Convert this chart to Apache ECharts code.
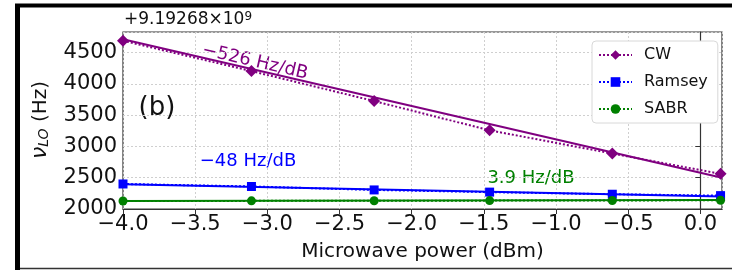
<!DOCTYPE html>
<html>
<head>
<meta charset="utf-8">
<script src="https://cdn.jsdelivr.net/npm/echarts@6/dist/echarts.min.js"></script>
<style>
  html, body { margin: 0; padding: 0; background: #fff; }
  #chart { width: 732px; height: 270px; }
</style>
</head>
<body>
<div id="chart"></div>
<script>
// microwave power (dBm) for every measurement
const power = [-4.0, -3.11, -2.26, -1.46, -0.61, 0.14];
// LO frequency offset from 9.19268e9 Hz
const cwVals = [4690, 4205, 3726, 3258, 2887, 2562];
const ramseyVals = [2400, 2360, 2305, 2270, 2236, 2214];
const sabrVals = [2128, 2130, 2132, 2134, 2136, 2140];
// linear fits, end points
const fitPower = [-4.0, 0.15];
const cwFit = [4715, 2500];
const ramseyFit = [2395, 2200];
const sabrFit = [2127, 2143];

const xTicks = { min: -4.0, max: 0.15, interval: 0.5 };
const yTicks = { min: 2000, max: 4830, interval: 500 };

const FONT = 'DejaVu Sans';
const PURPLE = '#800080', BLUE = '#0000ff', GREEN = '#008000';

const pairs = (xs, ys) => xs.map((x, i) => [x, ys[i]]);
const minus = s => String(s).replace('-', '\u2212');

function dataSeries(name, vals, color, symbol, size) {
  return {
    name: name,
    type: 'line',
    data: pairs(power, vals),
    symbol: symbol,
    symbolSize: size,
    itemStyle: { color: color },
    lineStyle: { color: color, width: 2, type: [2, 2] },
    z: 3,
    animation: false
  };
}

function fitSeries(vals, color) {
  return {
    type: 'line',
    data: pairs(fitPower, vals),
    symbol: 'none',
    lineStyle: { color: color, width: 2 },
    z: 2,
    silent: true,
    animation: false
  };
}

const chart = echarts.init(document.getElementById('chart'));
chart.setOption({
  animation: false,
  textStyle: { fontFamily: FONT },
  grid: {
    left: 123, right: 10, top: 32, bottom: 61,
    show: true, borderColor: '#333', borderWidth: 1.2
  },
  xAxis: {
    type: 'value',
    min: xTicks.min, max: xTicks.max, interval: xTicks.interval,
    name: 'Microwave power (dBm)',
    nameLocation: 'middle', nameGap: 33,
    nameTextStyle: { fontSize: 20, color: '#111', fontFamily: FONT },
    axisLine: { show: true, lineStyle: { color: '#333', width: 1.2 } },
    axisTick: { show: true, length: 5, lineStyle: { color: '#333' } },
    axisLabel: {
      fontSize: 21, color: '#111', margin: 5, showMaxLabel: false,
      formatter: v => minus(v.toFixed(1)).replace('\u22120.0', '0.0')
    },
    splitLine: { show: true, lineStyle: { color: '#cfcfcf', type: [2, 2], width: 1 } }
  },
  yAxis: {
    type: 'value',
    min: yTicks.min, max: yTicks.max, interval: yTicks.interval,
    axisLine: { show: true, lineStyle: { color: '#333', width: 1.2 } },
    axisTick: { show: true, length: 5, lineStyle: { color: '#333' } },
    axisLabel: { fontSize: 21, color: '#111', margin: 6, showMaxLabel: false,
      formatter: v => String(v) },
    splitLine: { show: true, lineStyle: { color: '#cfcfcf', type: [2, 2], width: 1 } }
  },
  legend: {
    data: ['CW', 'Ramsey', 'SABR'],
    orient: 'vertical',
    left: 592, top: 41,
    padding: [6, 10, 6, 6],
    itemWidth: 33, itemHeight: 12, itemGap: 11,
    backgroundColor: '#fff',
    borderColor: '#d8d8d8', borderWidth: 1, borderRadius: 4,
    textStyle: { fontSize: 16, color: '#111', fontFamily: FONT, padding: [0, 0, 0, 7] }
  },
  series: [
    fitSeries(cwFit, PURPLE),
    fitSeries(ramseyFit, BLUE),
    fitSeries(sabrFit, GREEN),
    dataSeries('CW', cwVals, PURPLE, 'diamond', 12),
    dataSeries('Ramsey', ramseyVals, BLUE, 'rect', 9),
    dataSeries('SABR', sabrVals, GREEN, 'circle', 9)
  ],
  graphic: [
    // outer black frame of the figure panel
    { type: 'line', silent: true, shape: { x1: 17.5, y1: 4, x2: 17.5, y2: 270 },
      style: { stroke: '#000', lineWidth: 5 } },
    { type: 'line', silent: true, shape: { x1: 15, y1: 5.5, x2: 732, y2: 5.5 },
      style: { stroke: '#000', lineWidth: 4 } },
    { type: 'line', silent: true, shape: { x1: 20, y1: 268.5, x2: 732, y2: 268.5 },
      style: { stroke: '#333', lineWidth: 1.5 } },
    // offset text
    { type: 'text', x: 124, y: 11, silent: true,
      style: {
        text: '{a|+9.19268\u00d710}{s|9}',
        rich: {
          a: { fontSize: 17, fontFamily: FONT, fill: '#111', verticalAlign: 'bottom' },
          s: { fontSize: 12, fontFamily: FONT, fill: '#111', verticalAlign: 'top' }
        }
      } },
    // y axis name
    { type: 'text', x: 38, y: 120, rotation: Math.PI / 2, silent: true,
      style: {
        text: '{n|\u03bd}{s|LO}{h| (Hz)}',
        align: 'center', verticalAlign: 'middle',
        rich: {
          n: { fontSize: 22, fontFamily: FONT, fontStyle: 'italic', fill: '#111', verticalAlign: 'bottom', lineHeight: 26 },
          s: { fontSize: 14, fontFamily: FONT, fontStyle: 'italic', fill: '#111', verticalAlign: 'bottom', lineHeight: 20 },
          h: { fontSize: 20, fontFamily: FONT, fill: '#111', verticalAlign: 'bottom', lineHeight: 26 }
        }
      } },
    { type: 'text', x: 157, y: 108, silent: true,
      style: { text: '(b)', fontSize: 26, fontFamily: FONT, fill: '#111', align: 'center', verticalAlign: 'middle' } },
    { type: 'text', x: 255, y: 62, rotation: -13 * Math.PI / 180, silent: true,
      style: { text: '\u2212526 Hz/dB', fontSize: 18, fontFamily: FONT, fill: PURPLE, align: 'center', verticalAlign: 'middle' } },
    { type: 'text', x: 248, y: 161, silent: true,
      style: { text: '\u221248 Hz/dB', fontSize: 18, fontFamily: FONT, fill: BLUE, align: 'center', verticalAlign: 'middle' } },
    { type: 'text', x: 531, y: 178, silent: true,
      style: { text: '3.9 Hz/dB', fontSize: 18, fontFamily: FONT, fill: GREEN, align: 'center', verticalAlign: 'middle' } }
  ]
});
</script>
</body>
</html>
